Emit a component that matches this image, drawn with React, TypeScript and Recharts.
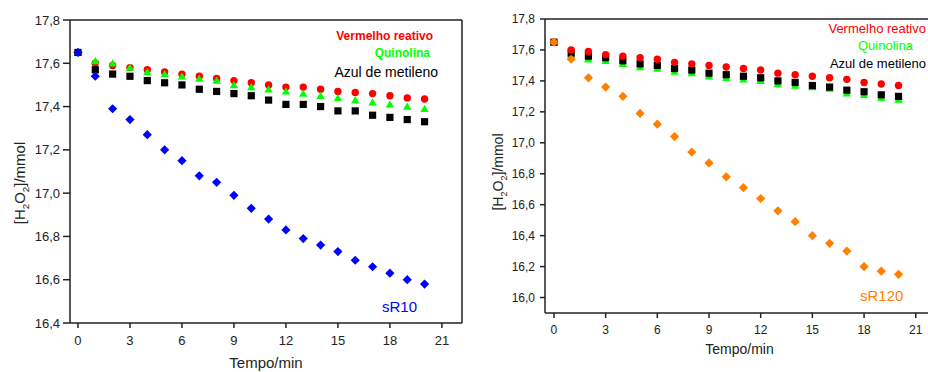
import React from "react";
import {
  ScatterChart,
  Scatter,
  XAxis,
  YAxis,
  ReferenceLine,
} from "recharts";

// tempo (min)
const tempo = [0, 1, 2, 3, 4, 5, 6, 7, 8, 9, 10, 11, 12, 13, 14, 15, 16, 17, 18, 19, 20];

// painel esquerdo (sR10)
const vermelhoA = [17.65, 17.6, 17.59, 17.58, 17.57, 17.56, 17.55, 17.54, 17.53, 17.52, 17.51, 17.5, 17.49, 17.49, 17.48, 17.47, 17.465, 17.46, 17.45, 17.44, 17.435];
const quinolinaA = [17.65, 17.61, 17.6, 17.58, 17.56, 17.55, 17.54, 17.53, 17.52, 17.5, 17.49, 17.48, 17.47, 17.46, 17.45, 17.44, 17.43, 17.42, 17.41, 17.4, 17.39];
const azulA = [17.65, 17.57, 17.55, 17.54, 17.52, 17.51, 17.5, 17.48, 17.47, 17.46, 17.45, 17.43, 17.41, 17.41, 17.4, 17.38, 17.38, 17.36, 17.35, 17.34, 17.33];
const sR10 = [17.65, 17.54, 17.39, 17.34, 17.27, 17.2, 17.15, 17.08, 17.05, 16.99, 16.93, 16.88, 16.83, 16.79, 16.76, 16.73, 16.69, 16.66, 16.63, 16.6, 16.58];

// painel direito (sR120)
const vermelhoB = [17.65, 17.6, 17.59, 17.57, 17.56, 17.55, 17.54, 17.52, 17.51, 17.5, 17.49, 17.48, 17.47, 17.45, 17.44, 17.43, 17.42, 17.41, 17.39, 17.38, 17.37];
const quinolinaB = [17.65, 17.57, 17.54, 17.53, 17.51, 17.49, 17.48, 17.46, 17.45, 17.43, 17.42, 17.41, 17.4, 17.38, 17.37, 17.36, 17.35, 17.32, 17.31, 17.29, 17.28];
const azulB = [17.65, 17.58, 17.56, 17.55, 17.53, 17.51, 17.5, 17.48, 17.47, 17.45, 17.44, 17.43, 17.42, 17.4, 17.39, 17.37, 17.36, 17.34, 17.33, 17.31, 17.3];
const sR120 = [17.65, 17.54, 17.42, 17.36, 17.3, 17.19, 17.12, 17.04, 16.94, 16.87, 16.78, 16.71, 16.64, 16.56, 16.49, 16.4, 16.35, 16.3, 16.2, 16.17, 16.15];

const xTicks = [0, 3, 6, 9, 12, 15, 18, 21];
const yTicksA = [16.4, 16.6, 16.8, 17.0, 17.2, 17.4, 17.6, 17.8];
const yTicksB = [16.0, 16.2, 16.4, 16.6, 16.8, 17.0, 17.2, 17.4, 17.6, 17.8];

const toRows = (vals: number[]) => tempo.map((t, i) => ({ t, v: vals[i] }));

const FONT = "'Liberation Sans', Arial, sans-serif";
const AXIS = "#222";

const RED = "#ff0000";
const GREEN = "#00ff00";
const BLACK = "#000000";
const BLUE = "#0000ff";
const ORANGE = "#ff8000";

const fmtY = (v: number) => v.toFixed(1).replace(".", ",");

const circle = (fill: string) => (p: any) => (
  <circle cx={p.cx} cy={p.cy} r={3.7} fill={fill} />
);
const square = (fill: string) => (p: any) => (
  <rect x={p.cx - 3.6} y={p.cy - 3.6} width={7.2} height={7.2} fill={fill} />
);
const triangle = (fill: string) => (p: any) => (
  <path d={`M${p.cx},${p.cy - 4} L${p.cx + 4.2},${p.cy + 3.2} L${p.cx - 4.2},${p.cy + 3.2} Z`} fill={fill} />
);
const diamond = (fill: string) => (p: any) => (
  <path d={`M${p.cx},${p.cy - 4.6} L${p.cx + 4.6},${p.cy} L${p.cx},${p.cy + 4.6} L${p.cx - 4.6},${p.cy} Z`} fill={fill} />
);

const H2O2Label = ({ x, y, size }: { x: number; y: number; size: number }) => (
  <text
    x={x}
    y={y}
    transform={`rotate(-90 ${x} ${y})`}
    textAnchor="middle"
    fontFamily={FONT}
    fontSize={size}
    fill={AXIS}
  >
    [H<tspan dy={4} fontSize={size * 0.65}>2</tspan>
    <tspan dy={-4}>O</tspan>
    <tspan dy={4} fontSize={size * 0.65}>2</tspan>
    <tspan dy={-4}>]/mmol</tspan>
  </text>
);

const LeftPanel = () => {
  const xDomain: [number, number] = [-0.46, 22.16];
  return (
    <ScatterChart width={464} height={372} margin={{ top: 20, right: 2, bottom: 0, left: 0 }}>
      <XAxis
        type="number"
        dataKey="t"
        domain={xDomain}
        ticks={xTicks}
        allowDataOverflow
        height={49}
        tickSize={5}
        tickMargin={8}
        stroke={AXIS}
        strokeWidth={1.5}
        tick={{ fontSize: 13, fontFamily: FONT, fill: AXIS }}
        label={{ value: "Tempo/min", position: "insideBottom", offset: 4, fontSize: 15, fontFamily: FONT, fill: AXIS }}
      />
      <YAxis
        type="number"
        dataKey="v"
        domain={[16.4, 17.8]}
        ticks={yTicksA}
        allowDataOverflow
        width={70}
        tickSize={7}
        tickMargin={3}
        stroke={AXIS}
        strokeWidth={1.5}
        tickFormatter={fmtY}
        tick={{ fontSize: 13, fontFamily: FONT, fill: AXIS }}
      />
      <ReferenceLine y={17.8} stroke={AXIS} strokeWidth={1.5} />
      <ReferenceLine x={xDomain[1]} stroke={AXIS} strokeWidth={1.5} />
      <Scatter data={toRows(vermelhoA)} fill={RED} shape={circle(RED)} isAnimationActive={false} />
      <Scatter data={toRows(quinolinaA)} fill={GREEN} shape={triangle(GREEN)} isAnimationActive={false} />
      <Scatter data={toRows(azulA)} fill={BLACK} shape={square(BLACK)} isAnimationActive={false} />
      <Scatter data={toRows(sR10)} fill={BLUE} shape={diamond(BLUE)} isAnimationActive={false} />
      <H2O2Label x={25} y={183} size={15} />
      <text x={433} y={40} textAnchor="end" fontFamily={FONT} fontSize={12} fontWeight="bold" fill={RED}>
        Vermelho reativo
      </text>
      <text x={430} y={57} textAnchor="end" fontFamily={FONT} fontSize={12} fontWeight="bold" fill={GREEN}>
        Quinolina
      </text>
      <text x={438} y={76.5} textAnchor="end" fontFamily={FONT} fontSize={14} fill={BLACK}>
        Azul de metileno
      </text>
      <text x={382} y={312} fontFamily={FONT} fontSize={15} fill={BLUE}>
        sR10
      </text>
    </ScatterChart>
  );
};

const RightPanel = () => {
  const xDomain: [number, number] = [-0.52, 22.06];
  return (
    <ScatterChart width={470} height={372} margin={{ top: 19, right: 0, bottom: 0, left: 0 }}>
      <XAxis
        type="number"
        dataKey="t"
        domain={xDomain}
        ticks={xTicks}
        allowDataOverflow
        height={59}
        tickSize={5}
        tickMargin={7}
        stroke={AXIS}
        strokeWidth={1.5}
        tick={{ fontSize: 12, fontFamily: FONT, fill: AXIS }}
        label={{ value: "Tempo/min", position: "insideBottom", offset: 18, fontSize: 14, fontFamily: FONT, fill: AXIS }}
      />
      <YAxis
        type="number"
        dataKey="v"
        domain={[15.9, 17.8]}
        ticks={yTicksB}
        allowDataOverflow
        width={81}
        tickSize={5}
        tickMargin={5}
        stroke={AXIS}
        strokeWidth={1.5}
        tickFormatter={fmtY}
        tick={{ fontSize: 12, fontFamily: FONT, fill: AXIS }}
      />
      <ReferenceLine y={17.8} stroke={AXIS} strokeWidth={1.5} />
      <Scatter data={toRows(quinolinaB)} fill={GREEN} shape={triangle(GREEN)} isAnimationActive={false} />
      <Scatter data={toRows(azulB)} fill={BLACK} shape={square(BLACK)} isAnimationActive={false} />
      <Scatter data={toRows(vermelhoB)} fill={RED} shape={circle(RED)} isAnimationActive={false} />
      <Scatter data={toRows(sR120)} fill={ORANGE} shape={diamond(ORANGE)} isAnimationActive={false} />
      <H2O2Label x={39} y={172} size={14} />
      <text x={462} y={33} textAnchor="end" fontFamily={FONT} fontSize={13} fill={RED}>
        Vermelho reativo
      </text>
      <text x={394} y={49.5} fontFamily={FONT} fontSize={13} fill={GREEN}>
        Quinolina
      </text>
      <text x={462} y={68} textAnchor="end" fontFamily={FONT} fontSize={13} fill={BLACK}>
        Azul de metileno
      </text>
      <text x={396} y={301} fontFamily={FONT} fontSize={15} fill={ORANGE}>
        sR120
      </text>
    </ScatterChart>
  );
};

export default function App() {
  return (
    <div
      style={{
        position: "fixed",
        top: 0,
        left: 0,
        width: 928,
        height: 372,
        overflow: "hidden",
        background: "#fff",
      }}
    >
      <div style={{ position: "absolute", left: 0, top: 0 }}>
        <LeftPanel />
      </div>
      <div style={{ position: "absolute", left: 464, top: 0 }}>
        <RightPanel />
      </div>
    </div>
  );
}
